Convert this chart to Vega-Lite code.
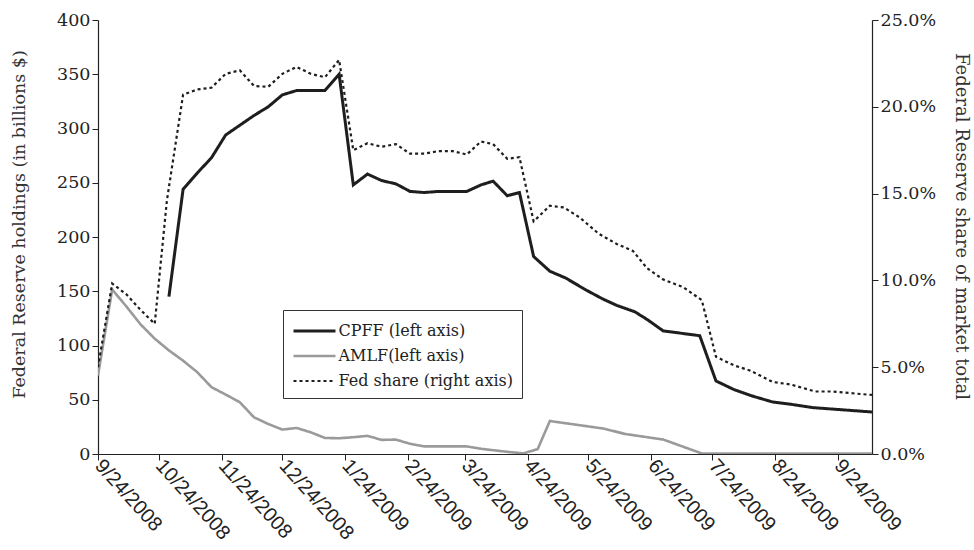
{
  "$schema": "https://vega.github.io/schema/vega-lite/v6.json",
  "width": 774,
  "height": 434,
  "autosize": {"type": "none"},
  "padding": {"left": 98, "top": 20, "right": 102, "bottom": 96},
  "background": "white",
  "config": {
    "view": {"stroke": null},
    "axis": {"grid": false, "domainColor": "#222", "tickColor": "#222", "labelColor": "#222", "titleColor": "#333", "domainWidth": 1.2, "tickWidth": 1}
  },
  "data": {"values": [
    {"date": "2008-09-24", "series": "AMLF(left axis)", "value": 72.4},
    {"date": "2008-10-01", "series": "AMLF(left axis)", "value": 151.6},
    {"date": "2008-10-08", "series": "AMLF(left axis)", "value": 136},
    {"date": "2008-10-15", "series": "AMLF(left axis)", "value": 119.5},
    {"date": "2008-10-22", "series": "AMLF(left axis)", "value": 106.3},
    {"date": "2008-10-29", "series": "AMLF(left axis)", "value": 95.5},
    {"date": "2008-11-05", "series": "AMLF(left axis)", "value": 86},
    {"date": "2008-11-12", "series": "AMLF(left axis)", "value": 75.4},
    {"date": "2008-11-19", "series": "AMLF(left axis)", "value": 61.6},
    {"date": "2008-11-26", "series": "AMLF(left axis)", "value": 54.8},
    {"date": "2008-12-03", "series": "AMLF(left axis)", "value": 47.7},
    {"date": "2008-12-10", "series": "AMLF(left axis)", "value": 33.8},
    {"date": "2008-12-17", "series": "AMLF(left axis)", "value": 27.7},
    {"date": "2008-12-24", "series": "AMLF(left axis)", "value": 22.5},
    {"date": "2008-12-31", "series": "AMLF(left axis)", "value": 24},
    {"date": "2009-01-07", "series": "AMLF(left axis)", "value": 20},
    {"date": "2009-01-14", "series": "AMLF(left axis)", "value": 14.8},
    {"date": "2009-01-21", "series": "AMLF(left axis)", "value": 14.5},
    {"date": "2009-01-28", "series": "AMLF(left axis)", "value": 15.5},
    {"date": "2009-02-04", "series": "AMLF(left axis)", "value": 16.7},
    {"date": "2009-02-11", "series": "AMLF(left axis)", "value": 13},
    {"date": "2009-02-18", "series": "AMLF(left axis)", "value": 13.3},
    {"date": "2009-02-25", "series": "AMLF(left axis)", "value": 9.4},
    {"date": "2009-03-04", "series": "AMLF(left axis)", "value": 7},
    {"date": "2009-03-11", "series": "AMLF(left axis)", "value": 7},
    {"date": "2009-03-18", "series": "AMLF(left axis)", "value": 7},
    {"date": "2009-03-25", "series": "AMLF(left axis)", "value": 7},
    {"date": "2009-04-01", "series": "AMLF(left axis)", "value": 4.8},
    {"date": "2009-04-08", "series": "AMLF(left axis)", "value": 3.3},
    {"date": "2009-04-15", "series": "AMLF(left axis)", "value": 1.8},
    {"date": "2009-04-22", "series": "AMLF(left axis)", "value": 0.6},
    {"date": "2009-04-29", "series": "AMLF(left axis)", "value": 4.5},
    {"date": "2009-05-05", "series": "AMLF(left axis)", "value": 30.4},
    {"date": "2009-05-18", "series": "AMLF(left axis)", "value": 27},
    {"date": "2009-06-01", "series": "AMLF(left axis)", "value": 23.3},
    {"date": "2009-06-11", "series": "AMLF(left axis)", "value": 18.5},
    {"date": "2009-06-30", "series": "AMLF(left axis)", "value": 13.3},
    {"date": "2009-07-19", "series": "AMLF(left axis)", "value": 0.5},
    {"date": "2009-08-15", "series": "AMLF(left axis)", "value": 0.3},
    {"date": "2009-09-15", "series": "AMLF(left axis)", "value": 0.3},
    {"date": "2009-10-11", "series": "AMLF(left axis)", "value": 0.3},

    {"date": "2008-10-29", "series": "CPFF (left axis)", "value": 145},
    {"date": "2008-11-05", "series": "CPFF (left axis)", "value": 244},
    {"date": "2008-11-12", "series": "CPFF (left axis)", "value": 259},
    {"date": "2008-11-19", "series": "CPFF (left axis)", "value": 273},
    {"date": "2008-11-26", "series": "CPFF (left axis)", "value": 294},
    {"date": "2008-12-03", "series": "CPFF (left axis)", "value": 303},
    {"date": "2008-12-10", "series": "CPFF (left axis)", "value": 312},
    {"date": "2008-12-17", "series": "CPFF (left axis)", "value": 320},
    {"date": "2008-12-24", "series": "CPFF (left axis)", "value": 331},
    {"date": "2008-12-31", "series": "CPFF (left axis)", "value": 335},
    {"date": "2009-01-07", "series": "CPFF (left axis)", "value": 335},
    {"date": "2009-01-14", "series": "CPFF (left axis)", "value": 335},
    {"date": "2009-01-21", "series": "CPFF (left axis)", "value": 350},
    {"date": "2009-01-28", "series": "CPFF (left axis)", "value": 248},
    {"date": "2009-02-04", "series": "CPFF (left axis)", "value": 258},
    {"date": "2009-02-11", "series": "CPFF (left axis)", "value": 252},
    {"date": "2009-02-18", "series": "CPFF (left axis)", "value": 249},
    {"date": "2009-02-25", "series": "CPFF (left axis)", "value": 242},
    {"date": "2009-03-04", "series": "CPFF (left axis)", "value": 241},
    {"date": "2009-03-11", "series": "CPFF (left axis)", "value": 242},
    {"date": "2009-03-18", "series": "CPFF (left axis)", "value": 242},
    {"date": "2009-03-25", "series": "CPFF (left axis)", "value": 242},
    {"date": "2009-04-01", "series": "CPFF (left axis)", "value": 248},
    {"date": "2009-04-07", "series": "CPFF (left axis)", "value": 251.5},
    {"date": "2009-04-14", "series": "CPFF (left axis)", "value": 238},
    {"date": "2009-04-20", "series": "CPFF (left axis)", "value": 241},
    {"date": "2009-04-27", "series": "CPFF (left axis)", "value": 182},
    {"date": "2009-05-05", "series": "CPFF (left axis)", "value": 168.5},
    {"date": "2009-05-13", "series": "CPFF (left axis)", "value": 162},
    {"date": "2009-05-23", "series": "CPFF (left axis)", "value": 151},
    {"date": "2009-05-31", "series": "CPFF (left axis)", "value": 143},
    {"date": "2009-06-07", "series": "CPFF (left axis)", "value": 137},
    {"date": "2009-06-16", "series": "CPFF (left axis)", "value": 131},
    {"date": "2009-06-22", "series": "CPFF (left axis)", "value": 124},
    {"date": "2009-06-30", "series": "CPFF (left axis)", "value": 113.4},
    {"date": "2009-07-08", "series": "CPFF (left axis)", "value": 111.5},
    {"date": "2009-07-18", "series": "CPFF (left axis)", "value": 109},
    {"date": "2009-07-26", "series": "CPFF (left axis)", "value": 67.3},
    {"date": "2009-08-04", "series": "CPFF (left axis)", "value": 59.3},
    {"date": "2009-08-13", "series": "CPFF (left axis)", "value": 53.4},
    {"date": "2009-08-23", "series": "CPFF (left axis)", "value": 47.9},
    {"date": "2009-09-01", "series": "CPFF (left axis)", "value": 45.8},
    {"date": "2009-09-12", "series": "CPFF (left axis)", "value": 42.7},
    {"date": "2009-09-26", "series": "CPFF (left axis)", "value": 40.8},
    {"date": "2009-10-11", "series": "CPFF (left axis)", "value": 38.7},

    {"date": "2008-09-24", "series": "Fed share (right axis)", "value": 5.0},
    {"date": "2008-10-01", "series": "Fed share (right axis)", "value": 9.82},
    {"date": "2008-10-08", "series": "Fed share (right axis)", "value": 9.2},
    {"date": "2008-10-15", "series": "Fed share (right axis)", "value": 8.3},
    {"date": "2008-10-22", "series": "Fed share (right axis)", "value": 7.5},
    {"date": "2008-10-28", "series": "Fed share (right axis)", "value": 14.6},
    {"date": "2008-11-05", "series": "Fed share (right axis)", "value": 20.7},
    {"date": "2008-11-12", "series": "Fed share (right axis)", "value": 21.0},
    {"date": "2008-11-19", "series": "Fed share (right axis)", "value": 21.1},
    {"date": "2008-11-26", "series": "Fed share (right axis)", "value": 21.9},
    {"date": "2008-12-03", "series": "Fed share (right axis)", "value": 22.1},
    {"date": "2008-12-10", "series": "Fed share (right axis)", "value": 21.2},
    {"date": "2008-12-17", "series": "Fed share (right axis)", "value": 21.15},
    {"date": "2008-12-24", "series": "Fed share (right axis)", "value": 21.9},
    {"date": "2008-12-31", "series": "Fed share (right axis)", "value": 22.3},
    {"date": "2009-01-07", "series": "Fed share (right axis)", "value": 21.9},
    {"date": "2009-01-14", "series": "Fed share (right axis)", "value": 21.7},
    {"date": "2009-01-21", "series": "Fed share (right axis)", "value": 22.7},
    {"date": "2009-01-28", "series": "Fed share (right axis)", "value": 17.5},
    {"date": "2009-02-04", "series": "Fed share (right axis)", "value": 17.9},
    {"date": "2009-02-11", "series": "Fed share (right axis)", "value": 17.7},
    {"date": "2009-02-18", "series": "Fed share (right axis)", "value": 17.85},
    {"date": "2009-02-25", "series": "Fed share (right axis)", "value": 17.3},
    {"date": "2009-03-04", "series": "Fed share (right axis)", "value": 17.3},
    {"date": "2009-03-11", "series": "Fed share (right axis)", "value": 17.45},
    {"date": "2009-03-18", "series": "Fed share (right axis)", "value": 17.45},
    {"date": "2009-03-25", "series": "Fed share (right axis)", "value": 17.25},
    {"date": "2009-04-01", "series": "Fed share (right axis)", "value": 18.0},
    {"date": "2009-04-07", "series": "Fed share (right axis)", "value": 17.85},
    {"date": "2009-04-14", "series": "Fed share (right axis)", "value": 17.0},
    {"date": "2009-04-20", "series": "Fed share (right axis)", "value": 17.1},
    {"date": "2009-04-27", "series": "Fed share (right axis)", "value": 13.4},
    {"date": "2009-05-05", "series": "Fed share (right axis)", "value": 14.3},
    {"date": "2009-05-12", "series": "Fed share (right axis)", "value": 14.2},
    {"date": "2009-05-20", "series": "Fed share (right axis)", "value": 13.6},
    {"date": "2009-05-29", "series": "Fed share (right axis)", "value": 12.7},
    {"date": "2009-06-07", "series": "Fed share (right axis)", "value": 12.1},
    {"date": "2009-06-15", "series": "Fed share (right axis)", "value": 11.7},
    {"date": "2009-06-22", "series": "Fed share (right axis)", "value": 10.7},
    {"date": "2009-06-30", "series": "Fed share (right axis)", "value": 10.05},
    {"date": "2009-07-10", "series": "Fed share (right axis)", "value": 9.6},
    {"date": "2009-07-19", "series": "Fed share (right axis)", "value": 8.86},
    {"date": "2009-07-26", "series": "Fed share (right axis)", "value": 5.6},
    {"date": "2009-08-04", "series": "Fed share (right axis)", "value": 5.1},
    {"date": "2009-08-12", "series": "Fed share (right axis)", "value": 4.8},
    {"date": "2009-08-23", "series": "Fed share (right axis)", "value": 4.15},
    {"date": "2009-09-01", "series": "Fed share (right axis)", "value": 4.0},
    {"date": "2009-09-13", "series": "Fed share (right axis)", "value": 3.6},
    {"date": "2009-09-21", "series": "Fed share (right axis)", "value": 3.6},
    {"date": "2009-10-11", "series": "Fed share (right axis)", "value": 3.4}
  ]},
  "encoding": {
    "x": {
      "field": "date", "type": "temporal",
      "scale": {"type": "utc", "domain": [{"year": 2008, "month": 9, "date": 24, "utc": true}, {"year": 2009, "month": 10, "date": 11, "utc": true}]},
      "axis": {
        "title": null,
        "format": "%-m/%d/%Y",
        "values": [
          {"year": 2008, "month": 9, "date": 24, "utc": true},
          {"year": 2008, "month": 10, "date": 24, "utc": true},
          {"year": 2008, "month": 11, "date": 24, "utc": true},
          {"year": 2008, "month": 12, "date": 24, "utc": true},
          {"year": 2009, "month": 1, "date": 24, "utc": true},
          {"year": 2009, "month": 2, "date": 24, "utc": true},
          {"year": 2009, "month": 3, "date": 24, "utc": true},
          {"year": 2009, "month": 4, "date": 24, "utc": true},
          {"year": 2009, "month": 5, "date": 24, "utc": true},
          {"year": 2009, "month": 6, "date": 24, "utc": true},
          {"year": 2009, "month": 7, "date": 24, "utc": true},
          {"year": 2009, "month": 8, "date": 24, "utc": true},
          {"year": 2009, "month": 9, "date": 24, "utc": true}
        ],
        "labelAngle": 48,
        "labelAlign": "left",
        "labelBaseline": "middle",
        "labelFont": "Liberation Sans",
        "labelFontSize": 20,
        "labelPadding": 2,
        "tickSize": 6,
        "labelOverlap": false,
        "labelBound": false,
        "labelFlush": false
      }
    },
    "color": {
      "field": "series", "type": "nominal",
      "scale": {"domain": ["CPFF (left axis)", "AMLF(left axis)", "Fed share (right axis)"], "range": ["#1e1e1e", "#9a9a9a", "#1e1e1e"]},
      "legend": {
        "title": null, "orient": "none", "legendX": 185, "legendY": 290,
        "strokeColor": "#333", "fillColor": "white", "padding": 9,
        "labelFont": "DejaVu Serif", "labelFontSize": 16, "labelColor": "#222", "labelLimit": 400,
        "symbolType": "M-2,0H2", "symbolSize": 441, "symbolStrokeWidth": 2.5, "symbolOffset": 10.5,
        "rowPadding": 5, "labelOffset": 12
      }
    },
    "strokeDash": {
      "field": "series", "type": "nominal",
      "scale": {"domain": ["CPFF (left axis)", "AMLF(left axis)", "Fed share (right axis)"], "range": [[1, 0], [1, 0], [3, 3]]},
      "legend": null
    },
    "strokeWidth": {
      "field": "series", "type": "nominal",
      "scale": {"domain": ["CPFF (left axis)", "AMLF(left axis)", "Fed share (right axis)"], "range": [3, 2.2, 2.8]},
      "legend": null
    }
  },
  "layer": [
    {
      "transform": [{"filter": "datum.series !== 'Fed share (right axis)'"}],
      "mark": {"type": "line", "strokeJoin": "miter", "clip": true},
      "encoding": {
        "y": {
          "field": "value", "type": "quantitative",
          "scale": {"domain": [0, 400], "nice": false},
          "axis": {
            "orient": "left", "values": [0, 50, 100, 150, 200, 250, 300, 350, 400],
            "title": "Federal Reserve holdings (in billions $)",
            "titleFont": "DejaVu Serif", "titleFontSize": 17.5, "titleFontWeight": "normal", "titlePadding": 28, "titleY": 204,
            "labelFont": "DejaVu Serif", "labelFontSize": 17.5, "labelPadding": 2, "tickSize": 6
          }
        }
      }
    },
    {
      "transform": [{"filter": "datum.series === 'Fed share (right axis)'"}],
      "mark": {"type": "line", "strokeJoin": "miter", "clip": true},
      "encoding": {
        "y": {
          "field": "value", "type": "quantitative",
          "scale": {"domain": [0, 25], "nice": false},
          "axis": {
            "orient": "right", "values": [0, 5, 10, 15, 20, 25],
            "labelExpr": "format(datum.value, '.1f') + '%'",
            "title": "Federal Reserve share of market total", "titleAngle": 90,
            "titleFont": "DejaVu Serif", "titleFontSize": 18, "titleFontWeight": "normal", "titlePadding": 16, "titleY": 206,
            "labelFont": "DejaVu Serif", "labelFontSize": 17.5, "labelPadding": 2, "tickSize": 6
          }
        }
      }
    }
  ],
  "resolve": {"scale": {"y": "independent"}}
}
